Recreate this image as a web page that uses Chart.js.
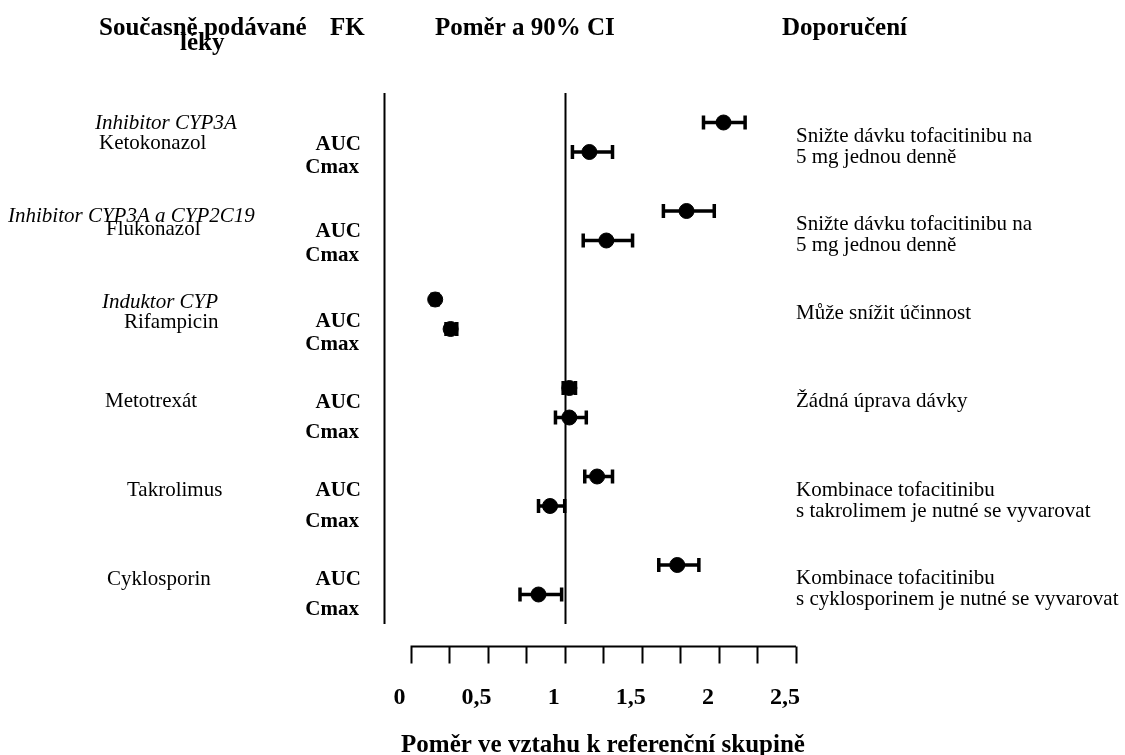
<!DOCTYPE html>
<html>
<head>
<meta charset="utf-8">
<script src="https://cdn.jsdelivr.net/npm/chart.js@4/dist/chart.umd.min.js"></script>
<style>
  html, body { margin: 0; padding: 0; background: #fff; }
  canvas { display: block; }
</style>
</head>
<body>
<canvas id="forestChart" width="1125" height="755"></canvas>
<script>
// data
const drugs = ['Ketokonazol', 'Flukonazol', 'Rifampicin', 'Metotrexát', 'Takrolimus', 'Cyklosporin'];
const drugClasses = ['Inhibitor CYP3A', 'Inhibitor CYP3A a CYP2C19', 'Induktor CYP', '', '', ''];
const aucRatio = [2.03, 1.79, 0.16, 1.03, 1.21, 1.73];
const aucLow   = [1.90, 1.64, 0.14, 0.99, 1.13, 1.61];
const aucHigh  = [2.17, 1.97, 0.18, 1.07, 1.31, 1.87];
const cmaxRatio = [1.16, 1.27, 0.26, 1.03, 0.905, 0.83];
const cmaxLow   = [1.05, 1.12, 0.23, 0.94, 0.83, 0.71];
const cmaxHigh  = [1.31, 1.44, 0.30, 1.14, 1.00, 0.98];
const recommendations = [
    ['Snižte dávku tofacitinibu na', '5 mg jednou denně'],
    ['Snižte dávku tofacitinibu na', '5 mg jednou denně'],
    ['Může snížit účinnost'],
    ['Žádná úprava dávky'],
    ['Kombinace tofacitinibu', 's takrolimem je nutné se vyvarovat'],
    ['Kombinace tofacitinibu', 's cyklosporinem je nutné se vyvarovat']
];
const xTicks = [0, 0.25, 0.5, 0.75, 1, 1.25, 1.5, 1.75, 2, 2.25, 2.5];
const xTickLabels = ['0', '', '0,5', '', '1', '', '1,5', '', '2', '', '2,5'];

const SERIF = '"Liberation Serif", "Times New Roman", serif';

// each drug takes three rows: AUC, Cmax, gap
const aucPoints = aucRatio.map((v, i) => ({ x: v, y: i * 3 }));
const cmaxPoints = cmaxRatio.map((v, i) => ({ x: v, y: i * 3 + 1 }));

// label placement (left edge px, baseline offset from the AUC row)
const nameX = [99, 106, 124, 105, 127, 107];
const nameDy = [26, 24, 28, 19, 19, 20];
const aucLabelDy = [27, 26, 27, 20, 19, 20];
const classX = [95, 8, 102];
const classDy = [6, 11, 8];

const forestPlugin = {
    id: 'forest',
    beforeDatasetsDraw(chart) {
        const { ctx, chartArea, scales: { x, y } } = chart;
        ctx.save();
        ctx.strokeStyle = '#000';
        ctx.lineWidth = 2;

        // left frame line and reference line at 1
        [x.min, 1].forEach(v => {
            const px = Math.round(x.getPixelForValue(v)) + 0.5;
            ctx.beginPath();
            ctx.moveTo(px, chartArea.top);
            ctx.lineTo(px, chartArea.bottom);
            ctx.stroke();
        });

        // confidence intervals
        ctx.lineWidth = 3.5;
        const drawCI = (lo, hi, row) => {
            const py = y.getPixelForValue(row);
            const x1 = x.getPixelForValue(lo);
            const x2 = x.getPixelForValue(hi);
            ctx.beginPath();
            ctx.moveTo(x1, py);
            ctx.lineTo(x2, py);
            ctx.moveTo(x1, py - 7);
            ctx.lineTo(x1, py + 7);
            ctx.moveTo(x2, py - 7);
            ctx.lineTo(x2, py + 7);
            ctx.stroke();
        };
        drugs.forEach((d, i) => {
            drawCI(aucLow[i], aucHigh[i], i * 3);
            drawCI(cmaxLow[i], cmaxHigh[i], i * 3 + 1);
        });
        ctx.restore();
    },
    afterDraw(chart) {
        const { ctx, chartArea, scales: { x, y } } = chart;
        ctx.save();
        ctx.fillStyle = '#000';
        ctx.strokeStyle = '#000';
        ctx.textBaseline = 'alphabetic';

        // headers
        ctx.font = 'bold 25px ' + SERIF;
        ctx.textAlign = 'left';
        ctx.fillText('Současně podávané', 99, 35);
        ctx.fillText('FK', 330, 35);
        ctx.fillText('léky', 180, 50);
        ctx.fillText('Poměr a 90% CI', 435, 35);
        ctx.fillText('Doporučení', 782, 35);

        drugs.forEach((d, i) => {
            const yAuc = y.getPixelForValue(i * 3);

            if (drugClasses[i]) {
                ctx.font = 'italic 21px ' + SERIF;
                ctx.textAlign = 'left';
                ctx.fillText(drugClasses[i], classX[i], yAuc + classDy[i]);
            }
            ctx.font = '21px ' + SERIF;
            ctx.textAlign = 'left';
            ctx.fillText(d, nameX[i], yAuc + nameDy[i]);

            ctx.font = 'bold 21px ' + SERIF;
            ctx.textAlign = 'right';
            ctx.fillText('AUC', 361, yAuc + aucLabelDy[i]);
            ctx.fillText('Cmax', 359, yAuc + 50);

            ctx.font = '21px ' + SERIF;
            ctx.textAlign = 'left';
            recommendations[i].forEach((line, k) => {
                ctx.fillText(line, 796, yAuc + 19 + k * 21);
            });
        });

        // x axis drawn below the plot, from 0 to 2.5
        const axisY = chartArea.bottom + 22.5;
        ctx.lineWidth = 2;
        ctx.beginPath();
        ctx.moveTo(x.getPixelForValue(xTicks[0]), axisY);
        ctx.lineTo(x.getPixelForValue(xTicks[xTicks.length - 1]), axisY);
        xTicks.forEach(t => {
            const px = Math.round(x.getPixelForValue(t)) + 0.5;
            ctx.moveTo(px, axisY);
            ctx.lineTo(px, axisY + 17);
        });
        ctx.stroke();

        ctx.font = 'bold 24px ' + SERIF;
        ctx.textAlign = 'center';
        xTicks.forEach((t, i) => {
            if (xTickLabels[i]) ctx.fillText(xTickLabels[i], x.getPixelForValue(t) - 11, chartArea.bottom + 80);
        });
        ctx.font = 'bold 25px ' + SERIF;
        ctx.fillText('Poměr ve vztahu k referenční skupině', 603, 752);
        ctx.restore();
    }
};

const ctx = document.getElementById('forestChart').getContext('2d');
new Chart(ctx, {
    type: 'scatter',
    data: {
        datasets: [
            { label: 'AUC', data: aucPoints, backgroundColor: '#000', borderColor: '#000', pointRadius: 7.5, pointHoverRadius: 7.5 },
            { label: 'Cmax', data: cmaxPoints, backgroundColor: '#000', borderColor: '#000', pointRadius: 7.5, pointHoverRadius: 7.5 }
        ]
    },
    options: {
        responsive: false,
        animation: false,
        devicePixelRatio: 1,
        layout: { padding: { left: 384, right: 329, top: 93, bottom: 131 } },
        plugins: { legend: { display: false }, tooltip: { enabled: false } },
        scales: {
            x: { type: 'linear', min: -0.172, max: 2.5, display: false },
            y: { type: 'linear', min: -1, max: 17, reverse: true, display: false }
        }
    },
    plugins: [forestPlugin]
});
</script>
</body>
</html>
